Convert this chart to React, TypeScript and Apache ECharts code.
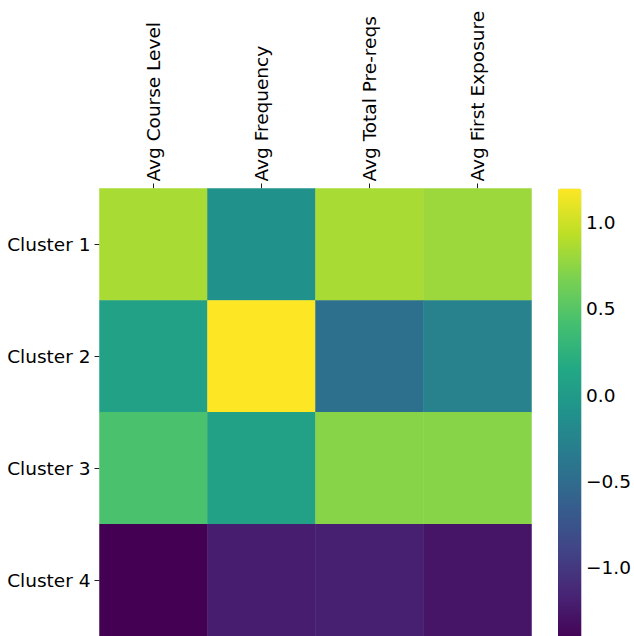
import React, { useEffect, useRef } from "react";
import * as echarts from "echarts";

const features = ["Avg Course Level", "Avg Frequency", "Avg Total Pre-reqs", "Avg First Exposure"];
const clusters = ["Cluster 1", "Cluster 2", "Cluster 3", "Cluster 4"];
const cluster1 = [0.86, -0.1, 0.86, 0.81];
const cluster2 = [0.08, 1.2, -0.44, -0.26];
const cluster3 = [0.45, 0.08, 0.73, 0.73];
const cluster4 = [-1.4, -1.19, -1.17, -1.25];
const colorbarTicks = [-1.0, -0.5, 0.0, 0.5, 1.0];
const colorMin = -1.4;
const colorMax = 1.2;
const viridis = ["#440154", "#482475", "#414487", "#355f8d", "#2a788e", "#21918c", "#22a884", "#44bf70", "#7ad151", "#bddf26", "#fde725"];

const FONT = "DejaVu Sans";

export default function App() {
  const ref = useRef<HTMLDivElement>(null);
  useEffect(() => {
    if (!ref.current) return;
    const chart = echarts.init(ref.current, null, { renderer: "svg" });
    const rows = [cluster1, cluster2, cluster3, cluster4];
    const data: [number, number, number][] = [];
    rows.forEach((row, r) => row.forEach((v, c) => data.push([c, r, v])));
    const fmt = (v: number) => v.toFixed(1).replace("-", "\u2212");
    chart.setOption({
      animation: false,
      textStyle: { fontFamily: FONT },
      grid: [
        { left: 99.5, top: 188.5, width: 432, height: 452 },
        { left: 558, top: 188.5, width: 23.5, height: 452 },
      ],
      xAxis: [
        {
          type: "category",
          data: features,
          position: "top",
          gridIndex: 0,
          axisLine: { show: false },
          axisTick: { show: true, length: 5, alignWithLabel: true, lineStyle: { color: "#222", width: 1 } },
          axisLabel: { rotate: -90, fontSize: 18.5, color: "#000", margin: 7, fontFamily: FONT, interval: 0 },
          splitLine: { show: false },
        },
        { type: "value", gridIndex: 1, show: false, min: 0, max: 1 },
      ],
      yAxis: [
        {
          type: "category",
          data: clusters,
          inverse: true,
          gridIndex: 0,
          axisLine: { show: false },
          axisTick: { show: true, length: 5, alignWithLabel: true, lineStyle: { color: "#222", width: 1 } },
          axisLabel: { fontSize: 18.5, color: "#000", margin: 9, fontFamily: FONT, interval: 0 },
          splitLine: { show: false },
        },
        {
          type: "value",
          gridIndex: 1,
          min: colorMin,
          max: colorMax,
          position: "right",
          axisLine: { show: false },
          splitLine: { show: false },
          axisTick: { show: true, length: 5, customValues: colorbarTicks, lineStyle: { color: "#222", width: 1 } },
          axisLabel: { fontSize: 18.5, color: "#000", margin: 7, fontFamily: FONT, customValues: colorbarTicks, formatter: fmt },
        },
      ],
      visualMap: {
        type: "continuous",
        min: colorMin,
        max: colorMax,
        orient: "vertical",
        left: 558,
        top: 188.5,
        itemWidth: 23.5,
        itemHeight: 452,
        padding: 0,
        text: ["", ""],
        calculable: false,
        hoverLink: false,
        seriesIndex: 0,
        inRange: { color: viridis },
      },
      series: [
        {
          type: "heatmap",
          xAxisIndex: 0,
          yAxisIndex: 0,
          data,
          itemStyle: { borderWidth: 0 },
          emphasis: { disabled: true },
        },
      ],
    });
    return () => chart.dispose();
  }, []);
  return <div ref={ref} style={{ position: "fixed", left: 0, top: 0, width: 634, height: 636, background: "#fff" }} />;
}
